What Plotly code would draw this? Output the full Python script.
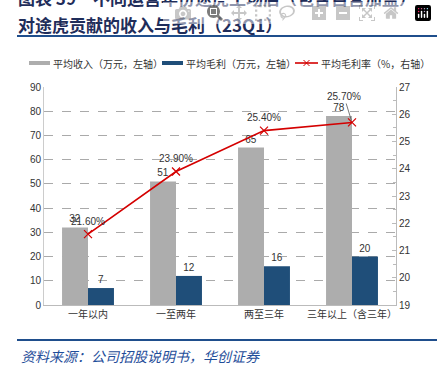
import plotly.graph_objects as go

categories = ["一年以内", "一至两年", "两至三年", "三年以上（含三年）"]
revenue = [32, 51, 65, 78]
profit = [7, 12, 16, 20]
margin = [21.6, 23.9, 25.4, 25.7]
left_ticks = [0, 10, 20, 30, 40, 50, 60, 70, 80, 90]
right_ticks = [19, 20, 21, 22, 23, 24, 25, 26, 27]

W, H = 437, 374
L, R, T, B = 44, 41, 87, 69
PW, PH = W - L - R, H - T - B

def px(x):
    return (x - L) / PW

def py(y):
    return (H - B - y) / PH

CJK = "Noto Sans CJK SC, Liberation Sans, sans-serif"
NUM = "Liberation Sans, Arial, sans-serif"
GRAY = "#ADADAD"
NAVY = "#1F4E79"
RED = "#D40000"
TXT = "#333333"

fig = go.Figure()
fig.add_trace(go.Bar(x=categories, y=revenue, name="平均收入（万元，左轴）",
                     marker=dict(color=GRAY, line=dict(width=0)),
                     text=[str(v) for v in revenue], textposition="outside",
                     textfont=dict(family=NUM, size=10, color=TXT), cliponaxis=False))
fig.add_trace(go.Bar(x=categories, y=profit, name="平均毛利（万元，左轴）",
                     marker=dict(color=NAVY, line=dict(width=0)),
                     text=[str(v) for v in profit], textposition="outside",
                     textfont=dict(family=NUM, size=10, color=TXT), cliponaxis=False))
fig.add_trace(go.Scatter(x=categories, y=margin, name="平均毛利率（%，右轴）", yaxis="y2",
                         mode="lines+markers", line=dict(color=RED, width=1.6),
                         marker=dict(symbol="x-thin", size=8, line=dict(color=RED, width=1.2)),
                         cliponaxis=False))

# line labels
offsets = [(0, -13), (0, -13), (0, -14), (-8, -26)]
for i, (c, m) in enumerate(zip(categories, margin)):
    ax, ay = offsets[i]
    fig.add_annotation(x=c, y=m, yref="y2", text=f"{m:.2f}%",
                       showarrow=(i == 3), arrowhead=0, arrowwidth=0.8, arrowcolor="#555",
                       ax=ax, ay=ay, standoff=2,
                       yshift=0 if i == 3 else 13,
                       font=dict(family=NUM, size=10, color=TXT))

fig.update_layout(
    width=W, height=H, margin=dict(l=L, r=R, t=T, b=B, autoexpand=False),
    plot_bgcolor="white", paper_bgcolor="white",
    barmode="group", bargap=0.41, bargroupgap=0,
    showlegend=False,
    xaxis=dict(showline=True, linecolor="#BBBBBB", linewidth=1, ticks="", automargin=False,
               tickfont=dict(family=CJK, size=10, color=TXT)),
    yaxis=dict(range=[0, 90], tickvals=left_ticks, showgrid=True, gridcolor="#AAAAAA",
               griddash="dash", gridwidth=0.8, zeroline=False, showline=True,
               linecolor="#CCCCCC", linewidth=1, automargin=False,
               tickfont=dict(family=NUM, size=10, color=TXT)),
    yaxis2=dict(range=[19, 27], tickvals=right_ticks, overlaying="y", side="right",
                showgrid=False, zeroline=False, showline=True, linecolor="#BBBBBB",
                ticks="inside", ticklen=4, tickcolor="#BBBBBB", automargin=False,
                minor=dict(ticks="inside", ticklen=3, tickcolor="#BBBBBB", dtick=0.5),
                ticksuffix="%", tickfont=dict(family=NUM, size=10, color=TXT)),
)

# title (first line partly cut off at the top, as in the reference)
fig.add_annotation(xref="paper", yref="paper", x=px(16), y=py(-2), xanchor="left", yanchor="middle",
                   text="<b>图表 39　不同运营年份途虎工场店（包含自营加盟）</b>", showarrow=False,
                   font=dict(family=CJK, size=17, color="#1F2D5A"))
fig.add_annotation(xref="paper", yref="paper", x=px(16), y=py(25), xanchor="left", yanchor="middle",
                   text="<b>对途虎贡献的收入与毛利（23Q1）</b>", showarrow=False,
                   font=dict(family=CJK, size=17, color="#1F2D5A"))
fig.add_shape(type="line", xref="paper", yref="paper", x0=px(17), x1=px(437), y0=py(36), y1=py(36),
              line=dict(color="#1F4E8C", width=2))
fig.add_shape(type="line", xref="paper", yref="paper", x0=px(17), x1=px(437), y0=py(340), y1=py(340),
              line=dict(color="#1F4E8C", width=2))
fig.add_annotation(xref="paper", yref="paper", x=px(19), y=py(356), xanchor="left", yanchor="middle",
                   text="<i>资料来源：公司招股说明书，华创证券</i>", showarrow=False,
                   font=dict(family=CJK, size=14, color="#1F4E9A"))

# legend (drawn manually)
legend_items = [
    (29, 50, GRAY, "平均收入（万元，左轴）", "bar"),
    (162, 183, NAVY, "平均毛利（万元，左轴）", "bar"),
    (295, 318, RED, "平均毛利率（%，右轴）", "line"),
]
for x0, x1, col, label, kind in legend_items:
    if kind == "bar":
        fig.add_shape(type="rect", xref="paper", yref="paper", x0=px(x0), x1=px(x1),
                      y0=py(65), y1=py(61), fillcolor=col, line=dict(width=0))
    else:
        fig.add_shape(type="line", xref="paper", yref="paper", x0=px(x0), x1=px(x1),
                      y0=py(63), y1=py(63), line=dict(color=col, width=1.6))
        cx = (x0 + x1) / 2
        for dy in (-3, 3):
            fig.add_shape(type="line", xref="paper", yref="paper",
                          x0=px(cx - 3), x1=px(cx + 3), y0=py(63 - dy), y1=py(63 + dy),
                          line=dict(color=col, width=1))
    fig.add_annotation(xref="paper", yref="paper", x=px(x1 + 1), y=py(63), xanchor="left",
                       yanchor="middle", text=label, showarrow=False,
                       font=dict(family=CJK, size=10, color=TXT))

fig.write_html("out.html", post_script="document.body.style.margin='0';")
